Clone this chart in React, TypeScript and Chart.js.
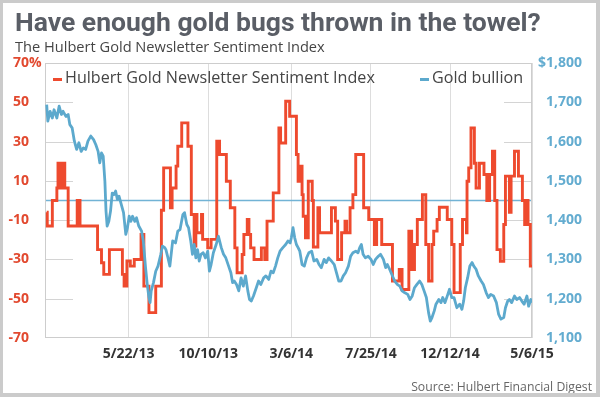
import React, { useEffect, useRef } from 'react';
import { Chart, registerables } from 'chart.js';

Chart.register(...registerables);

const TITLE = 'Have enough gold bugs thrown in the towel?';
const SUBTITLE = 'The Hulbert Gold Newsletter Sentiment Index';
const SOURCE = 'Source: Hulbert Financial Digest';
const SERIES_NAMES = ['Hulbert Gold Newsletter Sentiment Index', 'Gold bullion'];

// Day offsets are days since 1 Jan 2013.
const sentimentDays = [
  -4, -3, 6, 14, 16, 20, 25, 28, 34, 50, 55, 86, 93, 97, 107, 130, 133, 138, 144, 151, 163, 168, 177, 189, 199, 203,
  215, 218, 225, 228, 235, 246, 252, 257, 260, 262, 270, 272, 281, 287, 297, 302, 314, 321, 329, 333, 342, 345, 351,
  354, 357, 363, 376, 382, 386, 397, 407, 410, 419, 426,
  438, 441, 446, 448, 450, 454, 459, 466, 468, 476, 479, 500, 507, 511, 518, 524, 527, 533, 538, 543, 557, 566, 576,
  580, 589, 608, 620, 625, 637,
  642, 647, 652, 661, 667, 672, 678, 681, 687, 691, 705, 713, 717, 728, 732, 739, 740, 743, 747, 753, 756, 762, 770,
  775, 780, 785, 789, 793, 799, 805, 808, 815, 818, 824, 831, 838, 842, 846, 848, 852, 855,
];
const sentimentValues = [
  -6, -13, 0, 6.4, 19, 6.4, 19, 6.4, -13, 0, -13, -25, -31.7, -37.6, -25, -37.6, -43.6, -30.8, -33.4, -30, -17.3, -43.6, -57.1, -43.6, -5, 16.6,
  -3.7, 6.4, 17.5, 27.6, 39.5, 27.6, -7.1, -23.2, -7.1, -16.4, -7.1, -19.8, -24.1, -19.8, 30.2, 23.4, 9.8, -3.7, -24.1, -36.8, -27.5, -17.3, -9.7,
  -17.3, -24.1, -30, -24.1, -30, -10.5, 3.9, 36.9, 29.3, 50.5, 42.9,
  23.4, 9.8, 17.5, 3, -8, -19, 9.8, 0, -23.7, -3.7, -16.4, -3.7, -10.5, -30, -16.4, -10.5, -16.4, -3.7, 3, 23.4, -3.7, -9.7, -22.4,
  -9.7, -22.4, -41, -35.1, -45.3, -15.6,
  -35.1, -22.4, -9.7, 3, -22.4, -41, -22.4, -15.6, -9.7, -3.4, -9.7, -22.4, -46.9, -22.4, -9.7, -16.4, 9.8, 16.6, 36.9, 19, 6.4, 19, 13.2,
  0, 13.2, 25.1, 0, -25, -31, -12.2, 12.4, -6, 12.4, 25.1, 12.4, 0, -12.2, 0, -12.2, -33.4, -33.4,
];

const goldDays = [
  -4, -2, 2, 6, 9, 14, 18, 22, 25, 30, 34, 37, 41, 45, 49, 53, 57, 61, 65, 69, 74, 79, 83, 87, 90, 93, 96, 99, 101,
  103, 106, 109, 112, 115, 118, 121, 124, 128, 132, 136, 139, 142, 145, 148, 152, 155, 159, 164, 167, 171, 174, 177,
  179, 181, 185, 189, 193, 198, 201, 205,
  207, 210, 214, 219, 224, 228, 232, 237, 240, 244, 247, 251, 254, 257, 260, 263, 266, 269, 273, 277, 281, 284, 287,
  291, 296, 300, 305, 309, 313, 318, 322, 325, 328, 332, 336, 340, 344, 348, 352, 355, 358, 362, 367, 371, 375, 380,
  384, 389, 393, 397, 401, 405, 409, 414, 419, 423, 427,
  429, 432, 435, 438, 441, 444, 448, 452, 456, 460, 465, 469, 474, 478, 482, 487, 491, 495, 500, 505, 509, 513, 517,
  521, 525, 530, 534, 538, 543, 547, 550, 553, 556, 560, 565, 570, 574, 578, 583, 587, 592, 596, 599, 603, 608, 612,
  617, 621, 625, 630, 635, 639, 643,
  647, 651, 656, 660, 664, 668, 672, 675, 678, 682, 685, 690, 694, 697, 701, 706, 709, 713, 717, 722, 727, 731, 734,
  737, 741, 745, 749, 752, 756, 760, 765, 769, 774, 778, 782, 787, 792, 796, 800, 805, 808, 812, 815, 819, 824, 828,
  833, 837, 841, 846, 849, 853, 855,
];
const goldPrices = [
  1694, 1652, 1677, 1660, 1681, 1660, 1690, 1669, 1677, 1664, 1669, 1643, 1635, 1601, 1580, 1597, 1575, 1584, 1580,
  1601, 1614, 1605, 1592, 1575, 1546, 1571, 1563, 1499, 1423, 1385, 1397, 1423, 1469, 1465, 1474, 1453, 1461, 1440,
  1419, 1364, 1381, 1410, 1397, 1410, 1397, 1406, 1385, 1372, 1347, 1279, 1236, 1203, 1190, 1220, 1241, 1270, 1283,
  1313, 1334, 1330,
  1325, 1308, 1283, 1347, 1342, 1372, 1376, 1414, 1419, 1389, 1381, 1347, 1313, 1338, 1304, 1325, 1296, 1313, 1317,
  1304, 1321, 1270, 1287, 1317, 1338, 1359, 1330, 1313, 1304, 1283, 1266, 1241, 1245, 1236, 1220, 1253, 1232, 1258,
  1220, 1198, 1194, 1207, 1228, 1245, 1236, 1253, 1258, 1249, 1270, 1266, 1283, 1304, 1321, 1330, 1338, 1347, 1342,
  1355, 1381, 1355, 1338, 1330, 1321, 1287, 1283, 1304, 1317, 1321, 1296, 1300, 1287, 1279, 1300, 1292, 1304, 1296,
  1287, 1266, 1245, 1245, 1258, 1266, 1283, 1308, 1317, 1321, 1317, 1330, 1338, 1313, 1304, 1308, 1300, 1287, 1300,
  1308, 1313, 1300, 1279, 1287, 1275, 1258, 1245, 1236, 1232, 1220, 1215, 1211, 1198, 1207,
  1228, 1236, 1245, 1236, 1220, 1203, 1164, 1143, 1152, 1169, 1186, 1198, 1190, 1203, 1190, 1211, 1224, 1203, 1203,
  1177, 1186, 1173, 1194, 1228, 1253, 1283, 1292, 1283, 1275, 1258, 1245, 1236, 1215, 1203, 1211, 1207, 1190, 1160,
  1148, 1152, 1177, 1194, 1198, 1190, 1207, 1198, 1203, 1194, 1186, 1207, 1181, 1198, 1190,
];

const xTickLabels = ['5/22/13', '10/10/13', '3/6/14', '7/25/14', '12/12/14', '5/6/15'];
const X_START_DAY = -7;
const leftTickValues = [-70, -50, -30, -10, 10, 30, 50, 70];
const rightTickValues = [1100, 1200, 1300, 1400, 1500, 1600, 1700, 1800];

const RED = '#ee4a2e';
const RED_TEXT = '#e2492f';
const BLUE = '#5ca9cd';
const BLUE_TEXT = '#63acd0';
const DARK = '#454545';

function dayOf(label: string): number {
  const [m, d, y] = label.split('/').map(Number);
  return (Date.UTC(2000 + y, m - 1, d) - Date.UTC(2013, 0, 1)) / 86400000;
}

function fitSize(ctx: CanvasRenderingContext2D, text: string, weight: string, family: string, target: number) {
  ctx.font = `${weight} 100px ${family}`;
  const w = ctx.measureText(text).width;
  return (100 * target) / w;
}

const decorPlugin = {
  id: 'decor',
  beforeDraw(chart: any) {
    const { ctx, width, height } = chart;
    ctx.save();
    ctx.fillStyle = '#ffffff';
    ctx.fillRect(0, 0, width, height);
    ctx.restore();
  },
  beforeDatasetsDraw(chart: any) {
    const { ctx, chartArea: a, scales } = chart;
    const y = scales.y;
    ctx.save();
    ctx.strokeStyle = '#d4d4d4';
    ctx.lineWidth = 1;
    leftTickValues.forEach((v) => {
      if (v === 70 || v === -70) return;
      const py = Math.round(y.getPixelForValue(v)) + 0.5;
      ctx.beginPath();
      ctx.moveTo(a.left, py);
      ctx.lineTo(a.left + 28, py);
      ctx.moveTo(a.right - 28, py);
      ctx.lineTo(a.right, py);
      ctx.stroke();
    });
    const z = y.getPixelForValue(0);
    ctx.strokeStyle = '#72b3d5';
    ctx.lineWidth = 1.5;
    ctx.beginPath();
    ctx.moveTo(a.left, z);
    ctx.lineTo(a.right, z);
    ctx.stroke();
    ctx.strokeStyle = '#cdcdcd';
    ctx.lineWidth = 1;
    ctx.strokeRect(a.left + 0.5, a.top + 0.5, a.right - a.left - 1, a.bottom - a.top - 1);
    ctx.restore();
  },
  afterDraw(chart: any) {
    const { ctx, width, height, scales } = chart;
    ctx.save();
    // Title
    const ts = fitSize(ctx, TITLE, '700', 'Roboto, sans-serif', 526);
    ctx.font = `700 ${ts}px Roboto, sans-serif`;
    ctx.fillStyle = '#5a5e66';
    ctx.textAlign = 'left';
    ctx.textBaseline = 'alphabetic';
    ctx.fillText(TITLE, 15, 31);
    // Subtitle
    const ss = fitSize(ctx, SUBTITLE, '400', '"Open Sans", sans-serif', 310);
    ctx.font = `400 ${ss}px "Open Sans", sans-serif`;
    ctx.fillStyle = DARK;
    ctx.textBaseline = 'middle';
    ctx.fillText(SUBTITLE, 15, 48);
    // Legend
    const ls = fitSize(ctx, SERIES_NAMES[0], '400', '"Open Sans", sans-serif', 310);
    ctx.font = `400 ${ls}px "Open Sans", sans-serif`;
    ctx.fillStyle = DARK;
    ctx.fillText(SERIES_NAMES[0], 65, 78);
    ctx.fillText(SERIES_NAMES[1], 432, 78);
    ctx.fillStyle = RED;
    ctx.fillRect(53, 78, 9, 3);
    ctx.fillStyle = BLUE;
    ctx.fillRect(420, 78, 9, 3);
    // Percent sign on top left tick
    const y = scales.y;
    ctx.font = '700 14px "Open Sans", sans-serif';
    ctx.fillStyle = RED_TEXT;
    ctx.textAlign = 'left';
    ctx.fillText('%', 29, y.getPixelForValue(70));
    // Source
    const srs = fitSize(ctx, SOURCE, '400', '"Open Sans", sans-serif', 181);
    ctx.font = `400 ${srs}px "Open Sans", sans-serif`;
    ctx.fillStyle = '#666666';
    ctx.textAlign = 'right';
    ctx.fillText(SOURCE, 592, 388);
    // Outer frame
    ctx.fillStyle = '#cbcbcb';
    ctx.fillRect(0, 0, width, 3);
    ctx.fillRect(0, 0, 3, height);
    ctx.fillRect(width - 4, 0, 4, height);
    ctx.fillRect(0, height - 4, width, 4);
    ctx.restore();
  },
};

export default function App() {
  const ref = useRef<HTMLCanvasElement | null>(null);

  useEffect(() => {
    if (!ref.current) return;
    const tickDays = xTickLabels.map(dayOf);
    const chart = new Chart(ref.current, {
      type: 'line',
      data: {
        datasets: [
          {
            label: SERIES_NAMES[0],
            data: sentimentDays.map((d, i) => ({ x: d, y: sentimentValues[i] })),
            yAxisID: 'y',
            borderColor: RED,
            borderWidth: 2.9,
            stepped: true,
            pointRadius: 0,
            fill: false,
            borderJoinStyle: 'miter',
            order: 2,
          },
          {
            label: SERIES_NAMES[1],
            data: goldDays.map((d, i) => ({ x: d, y: goldPrices[i] })),
            yAxisID: 'y1',
            borderColor: BLUE,
            borderWidth: 2.8,
            pointRadius: 0,
            fill: false,
            tension: 0,
            borderJoinStyle: 'round',
            order: 1,
          },
        ],
      },
      options: {
        responsive: false,
        animation: false,
        devicePixelRatio: 1,
        layout: { padding: { top: 63, left: 0, right: 18, bottom: 0 } },
        plugins: { legend: { display: false }, tooltip: { enabled: false }, title: { display: false } },
        scales: {
          x: {
            type: 'linear',
            min: X_START_DAY,
            max: tickDays[tickDays.length - 1],
            afterBuildTicks: (scale: any) => {
              scale.ticks = tickDays.map((v) => ({ value: v }));
            },
            afterFit: (scale: any) => {
              scale.height = 59;
            },
            ticks: {
              autoSkip: false,
              maxRotation: 0,
              padding: 8,
              color: '#333333',
              font: { family: '"Open Sans", sans-serif', size: 14, weight: 'bold' },
              callback: (_v: any, i: number) => xTickLabels[i],
            },
            grid: { color: '#dddddd', drawTicks: false, lineWidth: 1 },
            border: { display: false },
          },
          y: {
            position: 'left',
            min: -70,
            max: 70,
            afterBuildTicks: (scale: any) => {
              scale.ticks = leftTickValues.map((v) => ({ value: v }));
            },
            afterFit: (scale: any) => {
              scale.width = 45;
            },
            ticks: {
              padding: 16,
              color: RED_TEXT,
              font: { family: '"Open Sans", sans-serif', size: 14, weight: 'bold' },
              callback: (v: any) => String(v),
            },
            grid: { display: false, drawTicks: false },
            border: { display: false },
          },
          y1: {
            position: 'right',
            min: 1100,
            max: 1800,
            afterBuildTicks: (scale: any) => {
              scale.ticks = rightTickValues.map((v) => ({ value: v }));
            },
            afterFit: (scale: any) => {
              scale.width = 50;
            },
            ticks: {
              padding: 6,
              crossAlign: 'far',
              color: BLUE_TEXT,
              font: { family: '"Open Sans", sans-serif', size: 14, weight: 'bold' },
              callback: (v: any) => {
                const s = Number(v).toLocaleString('en-US');
                return v === 1800 ? '$' + s : s;
              },
            },
            grid: { display: false, drawTicks: false },
            border: { display: false },
          },
        },
      },
      plugins: [decorPlugin],
    } as any);

    const fonts = ['700 26px Roboto', '400 14px "Open Sans"', '700 14px "Open Sans"'];
    Promise.all(fonts.map((f) => (document as any).fonts.load(f)))
      .catch(() => null)
      .then(() => {
        try {
          chart.update('none');
        } catch (e) {
          /* chart destroyed */
        }
      });

    return () => {
      chart.destroy();
    };
  }, []);

  return (
    <div style={{ position: 'absolute', left: 0, top: 0, width: 600, height: 397, background: '#fff' }}>
      <canvas ref={ref} width={600} height={397} style={{ display: 'block', width: 600, height: 397 }} />
    </div>
  );
}
